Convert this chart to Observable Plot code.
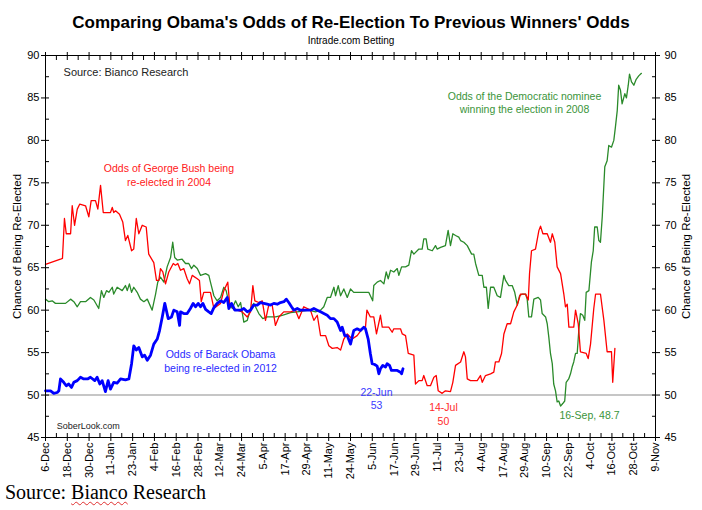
<!DOCTYPE html>
<html><head><meta charset="utf-8">
<script src="https://cdn.jsdelivr.net/npm/d3@7"></script>
<script src="https://cdn.jsdelivr.net/npm/@observablehq/plot@0.6"></script>
<style>
body{margin:0;background:#fff;}
#wrap{position:relative;width:702px;height:510px;overflow:hidden;font-family:"Liberation Sans",Arial,sans-serif;background:#fff;}
#chart{position:absolute;left:0;top:0;}
#title{position:absolute;left:0;width:702px;top:13px;text-align:center;font-weight:bold;font-size:17px;color:#000;}
#sub{position:absolute;left:0;width:702px;top:35px;text-align:center;font-size:10px;color:#000;}
#cap{position:absolute;left:5px;top:481px;font-family:"Liberation Serif","Times New Roman",serif;font-size:20px;color:#000;}
#cap .sp{text-decoration:underline wavy #e03030;text-decoration-thickness:1px;text-underline-offset:2px;}
</style></head>
<body><div id="wrap"><div id="chart"></div>
<div id="title">Comparing Obama's Odds of Re-Election To Previous Winners' Odds</div>
<div id="sub">Intrade.com Betting</div>
<div id="cap">Source: <span class="sp">Bianco</span> Research</div>
</div>
<script>
// x = days since 6-Dec, y = chance (%)
const xLabels = ["6-Dec","18-Dec","30-Dec","11-Jan","23-Jan","4-Feb","16-Feb","28-Feb","12-Mar","24-Mar","5-Apr","17-Apr","29-Apr","11-May","24-May","5-Jun","17-Jun","29-Jun","11-Jul","23-Jul","4-Aug","17-Aug","29-Aug","10-Sep","22-Sep","4-Oct","16-Oct","28-Oct","9-Nov"];
const spanDays = 338;
const yMajor = [45,50,55,60,65,70,75,80,85,90];
const yMinor = [47.5,52.5,57.5,62.5,67.5,72.5,77.5,82.5,87.5];

const bush2004 = [[0,65.4],[8.3,66.0],[9.4,66.1],[10.5,70.8],[11.5,69.0],[13.9,69.0],[14.8,72.3],[16.1,70.0],[17.6,71.9],[19.0,72.5],[22.2,72.3],[24.0,71.0],[25.3,72.9],[27.7,72.9],[29.0,71.9],[30.5,74.7],[32.0,71.5],[36.0,71.5],[37.0,72.1],[37.8,71.5],[38.8,71.7],[41.0,71.3],[42.8,70.4],[44.3,68.2],[45.6,68.8],[47.7,67.0],[48.9,67.2],[50.3,70.8],[51.7,69.0],[53.6,70.0],[55.8,69.8],[57.2,66.6],[60.0,65.6],[61.5,63.5],[62.8,63.5],[63.7,64.9],[65.0,64.5],[66.5,63.1],[68.3,64.5],[70.8,65.5],[72.0,65.3],[73.3,65.5],[74.8,64.7],[76.6,64.9],[78.5,63.7],[79.8,63.1],[81.3,64.1],[84.1,63.7],[85.3,63.5],[86.3,61.0],[87.7,62.1],[91.4,62.1],[93.3,60.2],[95.1,60.5],[97.0,60.8],[98.8,62.3],[101.0,63.3],[102.0,60.8],[104.3,60.2],[106.2,60.0],[109.0,59.8],[111.8,59.2],[113.6,59.8],[114.9,62.9],[116.0,61.1],[118.2,60.9],[120.1,61.1],[121.9,58.8],[123.7,60.6],[125.6,60.6],[127.4,58.2],[129.3,59.2],[132.0,59.8],[135.8,59.8],[138.5,60.0],[140.4,59.0],[143.1,60.4],[146.8,60.0],[148.7,58.8],[150.6,59.4],[152.4,57.0],[155.2,57.0],[157.0,55.8],[158.9,55.5],[161.6,55.6],[163.5,55.3],[165.3,56.6],[167.2,57.2],[169.9,56.6],[172.7,57.0],[175.5,57.8],[177.3,58.0],[178.1,60.0],[180.0,59.2],[181.9,59.2],[183.4,57.2],[185.6,59.4],[186.6,58.0],[190.2,58.0],[192.1,57.4],[193.0,57.8],[196.7,57.8],[197.7,57.2],[199.5,57.0],[201.0,54.9],[204.1,54.7],[205.0,51.3],[206.9,51.7],[208.7,51.7],[209.6,52.3],[211.5,51.1],[213.3,51.1],[215.2,52.1],[216.5,52.3],[217.6,50.5],[219.8,50.2],[221.6,50.5],[224.4,50.4],[225.7,51.5],[227.2,53.5],[230.0,53.9],[231.8,55.1],[232.7,54.5],[233.7,51.9],[235.5,51.7],[239.2,51.7],[241.0,52.3],[242.0,51.5],[243.8,52.3],[246.6,52.5],[248.4,52.7],[249.3,53.9],[251.2,53.9],[252.7,54.9],[254.0,57.2],[255.8,58.4],[257.7,58.4],[259.5,59.8],[261.4,60.6],[263.2,61.9],[266.0,61.9],[267.5,61.2],[268.2,64.3],[269.3,67.0],[271.5,67.2],[273.4,69.4],[274.3,69.9],[275.6,69.0],[278.0,69.0],[279.8,68.0],[280.8,69.0],[282.2,68.0],[283.5,65.1],[285.4,64.3],[287.2,61.9],[288.1,60.4],[289.1,60.7],[290.0,58.0],[292.7,58.0],[293.7,60.0],[295.2,58.4],[296.4,55.1],[299.6,54.9],[300.7,54.3],[302.0,56.0],[303.8,60.2],[304.8,61.9],[307.5,61.9],[309.4,58.8],[311.2,55.1],[313.6,55.1],[314.3,51.5],[315.5,55.5]];

const dem2008 = [[0,61.3],[1.8,61.0],[3.7,61.1],[5.5,60.8],[11.1,60.8],[13.9,61.3],[15.7,61.0],[17.6,60.4],[19.4,61.0],[22.2,61.0],[24.9,61.5],[26.8,61.2],[29.5,60.2],[31.0,62.3],[32.3,61.5],[33.8,62.3],[35.1,62.1],[37.0,62.7],[37.8,61.9],[39.7,62.7],[42.5,62.3],[44.3,62.9],[45.3,62.3],[46.5,63.1],[47.7,62.1],[48.9,62.7],[50.8,62.1],[52.6,61.3],[54.5,61.0],[56.4,61.3],[59.1,60.0],[61.0,61.9],[62.2,63.3],[63.7,63.9],[65.6,63.3],[67.4,65.1],[69.3,66.2],[70.5,68.0],[71.6,66.2],[73.0,65.9],[75.7,66.0],[77.6,65.5],[79.4,65.5],[80.9,64.9],[82.2,65.3],[84.1,64.9],[85.9,64.1],[88.7,64.3],[90.5,64.1],[91.4,63.3],[93.3,61.7],[95.1,61.1],[97.0,61.5],[98.8,62.7],[100.1,62.3],[101.6,60.9],[103.5,60.2],[105.3,61.1],[106.8,60.4],[108.1,60.9],[109.9,58.6],[111.8,58.8],[113.6,60.2],[115.4,60.8],[118.2,59.6],[120.4,59.0],[122.9,59.2],[127.4,59.2],[131.2,59.4],[135.8,59.7],[139.5,59.8],[145.9,60.0],[149.6,59.8],[152.4,60.0],[154.2,60.4],[156.1,61.5],[157.9,61.5],[159.8,62.7],[160.7,61.7],[162.2,62.9],[163.5,61.7],[165.3,62.5],[167.2,61.5],[169.0,62.5],[170.8,62.1],[173.6,62.1],[179.1,62.1],[181.3,61.1],[181.9,62.9],[183.8,63.3],[185.6,63.5],[187.5,63.1],[188.8,64.5],[189.9,63.7],[191.2,64.7],[193.0,64.5],[194.9,64.9],[195.8,64.1],[197.3,65.1],[199.5,65.1],[201.3,65.3],[202.8,67.0],[204.1,66.6],[206.9,67.2],[208.7,67.2],[209.6,68.4],[210.9,68.4],[211.8,67.2],[214.3,67.0],[216.1,67.6],[217.0,67.2],[218.9,67.4],[221.6,67.6],[223.1,69.4],[224.4,67.6],[225.7,69.0],[227.2,68.8],[229.0,68.6],[230.0,68.2],[231.8,68.0],[233.7,67.6],[236.1,66.6],[237.3,66.6],[238.3,65.5],[240.1,64.1],[242.0,64.1],[242.9,62.7],[244.3,62.7],[245.3,60.2],[246.6,62.7],[248.4,62.7],[250.3,61.7],[252.1,61.5],[254.0,64.1],[254.9,63.5],[256.7,62.9],[258.6,62.9],[260.0,62.1],[261.4,60.6],[262.7,61.7],[264.2,61.9],[266.0,61.9],[266.9,61.3],[267.8,59.2],[269.3,59.2],[270.6,61.3],[273.0,61.5],[274.3,61.2],[275.2,59.6],[277.1,59.2],[278.0,58.4],[278.9,56.8],[279.8,54.9],[280.8,53.7],[281.6,51.3],[282.6,50.5],[283.5,49.2],[284.4,49.3],[285.4,48.7],[286.6,49.0],[287.7,49.3],[288.5,51.5],[289.9,51.9],[290.9,52.5],[291.8,53.3],[292.7,53.9],[293.7,54.9],[294.6,54.9],[295.5,57.6],[296.4,59.6],[297.7,59.4],[298.8,58.8],[299.6,62.1],[301.1,62.3],[302.5,65.7],[303.5,67.0],[304.3,69.8],[305.7,69.8],[306.6,68.2],[307.5,68.0],[308.5,71.0],[309.9,76.9],[311.2,77.6],[312.1,79.4],[313.6,79.2],[314.9,80.0],[315.8,81.6],[316.8,83.5],[317.6,86.5],[318.6,85.9],[319.5,84.3],[321.0,85.5],[321.9,85.0],[322.9,86.5],[323.6,87.8],[324.7,86.9],[326.0,86.5],[327.3,87.2],[328.7,87.6],[330.2,87.9]];

const obama2012 = [[0,50.5],[2.8,50.5],[4.6,50.2],[6.5,50.3],[7.4,50.5],[8.3,51.9],[10.1,51.5],[11.5,51.1],[12.9,51.3],[14.4,50.9],[15.7,51.5],[17.6,51.7],[19.4,52.1],[21.2,51.9],[23.3,51.9],[24.9,52.1],[27.3,51.7],[28.6,52.1],[30.1,51.3],[31.4,51.7],[33.2,50.4],[34.7,51.7],[36.0,50.7],[37.8,51.5],[39.7,51.4],[41.6,51.9],[44.3,51.8],[46.2,51.9],[47.7,53.7],[48.9,55.8],[50.3,55.3],[51.7,55.6],[53.6,54.5],[54.9,54.7],[56.4,54.1],[58.2,54.7],[60.0,56.0],[61.9,56.6],[63.2,57.6],[64.7,59.2],[66.1,60.8],[68.0,59.0],[69.8,59.2],[71.1,60.0],[73.0,59.8],[74.3,58.2],[74.8,59.8],[76.6,59.6],[78.5,59.6],[80.3,60.2],[81.8,60.8],[83.1,60.4],[84.6,60.8],[85.9,60.4],[87.2,60.8],[88.7,60.1],[90.5,59.8],[91.8,59.6],[93.3,60.3],[95.1,60.8],[97.0,61.1],[98.8,60.9],[100.7,61.5],[101.6,60.2],[103.1,60.8],[104.9,60.0],[108.1,60.0],[109.9,60.2],[111.8,59.8],[113.6,60.0],[115.4,60.6],[117.3,60.6],[119.1,60.9],[121.0,60.8],[122.8,60.7],[124.7,60.6],[126.5,60.8],[128.4,60.7],[130.2,60.9],[132.1,61.0],[133.4,61.3],[134.8,60.9],[136.3,60.4],[137.6,60.0],[139.5,60.2],[141.3,60.0],[145.0,60.0],[146.8,60.0],[148.7,60.2],[150.6,60.0],[152.4,59.8],[154.2,59.6],[156.1,59.4],[157.9,59.0],[159.8,59.0],[161.6,58.6],[163.5,57.6],[164.4,58.0],[165.8,57.0],[167.2,57.0],[169.0,56.0],[170.8,57.6],[172.7,57.8],[174.5,57.6],[176.4,58.0],[177.3,57.8],[178.8,56.6],[180.0,54.9],[181.0,53.7],[182.4,53.6],[183.8,53.4],[184.7,52.5],[185.6,53.1],[186.9,53.5],[188.4,53.3],[189.3,53.7],[190.6,53.5],[191.7,52.9],[194.9,52.9],[196.7,52.7],[197.3,52.5],[198.1,53.1]];

// annotations
const notes = [
  {day: 68.4, v: 76.0, text: "Odds of George Bush being\nre-elected in 2004", color: "#ff2020"},
  {day: 97.0, v: 54.07, text: "Odds of Barack Obama\nbeing re-elected in 2012", color: "#2a2aff"},
  {day: 265.4, v: 84.52, text: "Odds of the Democratic nominee\nwinning the election in 2008", color: "#3a943a"},
  {day: 183.4, v: 49.65, text: "22-Jun\n53", color: "#3a3aff"},
  {day: 220.5, v: 47.83, text: "14-Jul\n50", color: "#ff2a2a"},
  {day: 301.4, v: 47.7, text: "16-Sep, 48.7", color: "#3a943a"}
];
const sources = [
  {day: 10, v: 88.0, text: "Source: Bianco Research", size: 11},
  {day: 6.2, v: 46.3, text: "SoberLook.com", size: 9}
];
const yTitle = "Chance of Being Re-Elected";

const xTickPos = xLabels.map((_, i) => i * spanDays / (xLabels.length - 1));
const labelAt = new Map(xTickPos.map((p, i) => [p, xLabels[i]]));
const xMinor = xTickPos.slice(1).map((p, i) => (p + xTickPos[i]) / 2);
const none = () => "";

const chart = Plot.plot({
  width: 702, height: 510,
  marginLeft: 45, marginRight: 47, marginTop: 55, marginBottom: 73,
  style: {fontFamily: "'Liberation Sans', Arial, sans-serif", fontSize: "11px", color: "#000", background: "transparent"},
  x: {domain: [0, spanDays]},
  y: {domain: [45, 90]},
  marks: [
    Plot.ruleY([50], {stroke: "#c6c6c6", strokeWidth: 2}),
    Plot.line(dem2008, {x: d => d[0], y: d => d[1], stroke: "#2a8a2a", strokeWidth: 1.3}),
    Plot.line(bush2004, {x: d => d[0], y: d => d[1], stroke: "#ff0000", strokeWidth: 1.3}),
    Plot.line(obama2012, {x: d => d[0], y: d => d[1], stroke: "#0000ff", strokeWidth: 2.8}),
    Plot.text(notes, {x: "day", y: "v", text: "text", fill: "color", fontSize: 10.5, lineHeight: 1.3}),
    Plot.text(sources, {x: "day", y: "v", text: "text", fontSize: d => d.size, textAnchor: "start", fill: "#222"}),
    Plot.frame({stroke: "#000"}),
    // bottom axis
    Plot.axisX({ticks: xTickPos, tickFormat: d => labelAt.get(d), tickRotate: -90, tickSize: 8, dy: -4, tickPadding: 1, label: null, fontSize: 11}),
    Plot.axisX({ticks: xMinor, tickFormat: none, tickSize: 4, dy: -4, label: null}),
    // top axis
    Plot.axisX({anchor: "top", ticks: xTickPos, tickFormat: none, tickSize: 8, dy: 4, label: null}),
    Plot.axisX({anchor: "top", ticks: xMinor, tickFormat: none, tickSize: 4, dy: 4, label: null}),
    // left axis
    Plot.axisY({ticks: yMajor, tickSize: 8, dx: 4, tickPadding: 2, label: null, fontSize: 11}),
    Plot.axisY({ticks: yMinor, tickFormat: none, tickSize: 4, dx: 4, label: null}),
    // right axis
    Plot.axisY({anchor: "right", ticks: yMajor, tickSize: 8, dx: -4, tickPadding: 5, label: null, fontSize: 11}),
    Plot.axisY({anchor: "right", ticks: yMinor, tickFormat: none, tickSize: 4, dx: -4, label: null}),
    // axis titles
    Plot.text([yTitle], {frameAnchor: "left", textAnchor: "middle", rotate: -90, dx: -28, fontSize: 11.5}),
    Plot.text([yTitle], {frameAnchor: "right", textAnchor: "middle", rotate: -90, dx: 31, fontSize: 11.5})
  ]
});
document.getElementById("chart").appendChild(chart);
</script>
</body></html>
